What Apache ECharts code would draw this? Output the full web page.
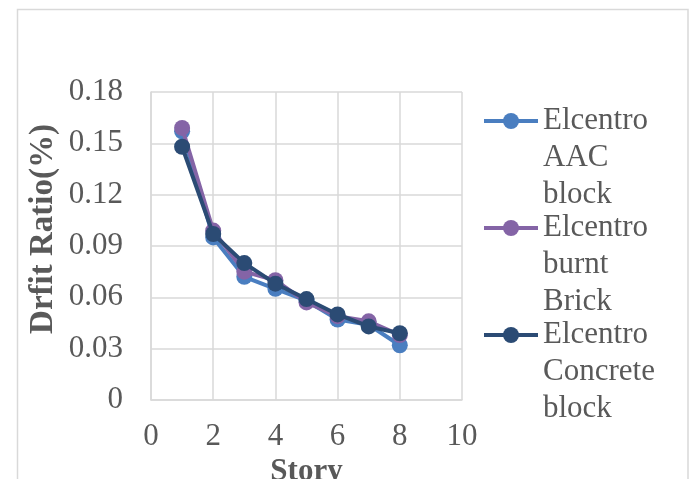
<!DOCTYPE html>
<html>
<head>
<meta charset="utf-8">
<script src="https://cdn.jsdelivr.net/npm/echarts@6/dist/echarts.min.js"></script>
<style>
  html, body { margin: 0; padding: 0; background: #ffffff; }
  #chart { width: 691px; height: 479px; }
</style>
</head>
<body>
<div id="chart"></div>
<script>
// Story numbers and drift ratios (%) for each masonry type under the El Centro record
const stories = [1, 2, 3, 4, 5, 6, 7, 8];
const aacBlock = [0.157, 0.095, 0.072, 0.065, 0.058, 0.047, 0.044, 0.032];
const burntBrick = [0.159, 0.099, 0.075, 0.070, 0.057, 0.049, 0.046, 0.038];
const concreteBlock = [0.148, 0.097, 0.080, 0.068, 0.059, 0.050, 0.043, 0.039];
const seriesNames = ['Elcentro AAC block', 'Elcentro burnt Brick', 'Elcentro Concrete block'];
const seriesColors = ['#4a7ec0', '#8464a6', '#2b4b74'];

const FONT = '"Liberation Serif", "Times New Roman", serif';
const TEXT = '#595959';
const GRID = '#d9d9d9';

function pairs(values) {
  return stories.map((s, i) => [s, values[i]]);
}

const seriesValues = [aacBlock, burntBrick, concreteBlock];

const series = seriesValues.map((vals, k) => ({
  name: seriesNames[k],
  type: 'line',
  data: pairs(vals),
  symbol: 'circle',
  symbolSize: 16,
  color: seriesColors[k],
  lineStyle: { width: 4, color: seriesColors[k] },
  itemStyle: { color: seriesColors[k] },
  z: 2 + k
}));

// One legend block per series. Two leading blank lines keep the icon
// level with the first word of the wrapped name.
const legendCenters = [121, 228, 335];
const LINE_H = 37;
const legends = seriesNames.map((name, k) => ({
  data: [name],
  orient: 'vertical',
  left: 482,
  top: legendCenters[k] - LINE_H * 2.5,
  padding: 0,
  itemWidth: 54,
  itemHeight: 20,
  lineStyle: { width: 4 },
  selectedMode: false,
  formatter: n => '\n\n' + n.split(' ').join('\n'),
  textStyle: {
    fontFamily: FONT,
    fontSize: 31,
    lineHeight: LINE_H,
    color: TEXT
  }
}));

const chart = echarts.init(document.getElementById('chart'), null, { renderer: 'canvas' });
chart.setOption({
  backgroundColor: '#ffffff',
  animation: false,
  graphic: [{
    type: 'rect',
    shape: { x: 17.5, y: 9.5, width: 670.5, height: 520 },
    style: { fill: 'none', stroke: GRID, lineWidth: 1.5 },
    silent: true,
    z: -1
  }],
  grid: { left: 151, right: 229, top: 92, bottom: 79, outerBoundsMode: 'none', containLabel: false },
  legend: legends,
  xAxis: {
    type: 'value',
    min: 0,
    max: 10,
    interval: 2,
    name: 'Story',
    nameLocation: 'middle',
    nameGap: 46,
    nameTextStyle: { fontFamily: FONT, fontSize: 31, fontWeight: 'bold', color: TEXT },
    axisLine: { show: true, lineStyle: { color: GRID, width: 1.5 } },
    axisTick: { show: false },
    splitLine: { show: true, lineStyle: { color: GRID, width: 1.5 } },
    axisLabel: { fontFamily: FONT, fontSize: 31, color: TEXT, margin: 21 }
  },
  yAxis: {
    type: 'value',
    min: 0,
    max: 0.18,
    interval: 0.03,
    name: 'Drfit Ratio(%)',
    nameLocation: 'middle',
    nameGap: 91,
    nameTextStyle: { fontFamily: FONT, fontSize: 33, fontWeight: 'bold', color: TEXT, padding: [0, 0, 0, 34] },
    axisLine: { show: true, lineStyle: { color: GRID, width: 1.5 } },
    axisTick: { show: false },
    splitLine: { show: true, lineStyle: { color: GRID, width: 1.5 } },
    axisLabel: { fontFamily: FONT, fontSize: 31, color: TEXT, margin: 28 }
  },
  series: series
});
</script>
</body>
</html>
